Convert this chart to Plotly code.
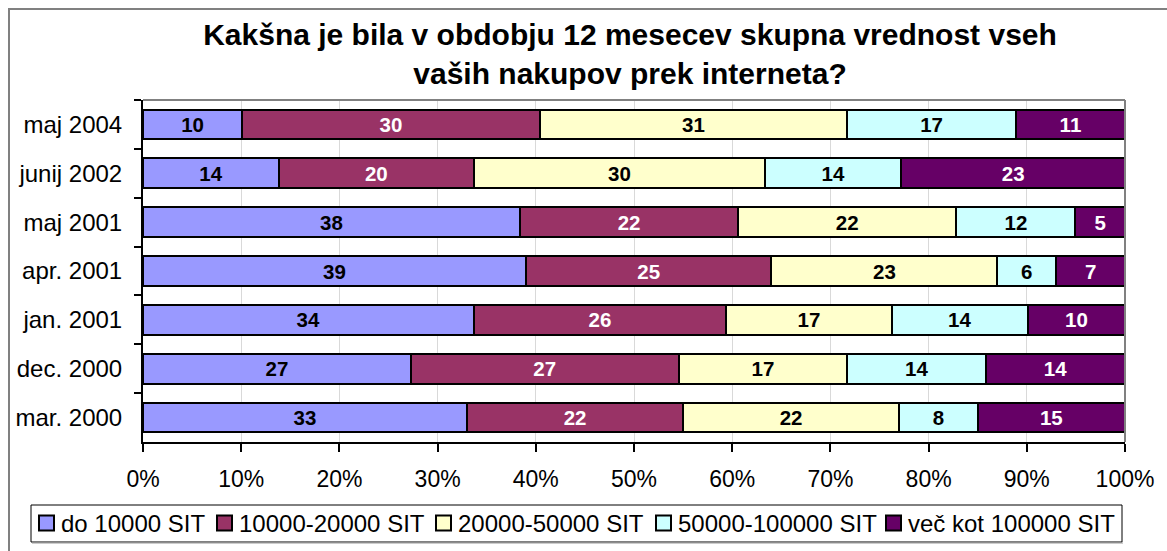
import plotly.graph_objects as go

categories = ["maj 2004", "junij 2002", "maj 2001", "apr. 2001", "jan. 2001", "dec. 2000", "mar. 2000"]
series_names = ["do 10000 SIT", "10000-20000 SIT", "20000-50000 SIT", "50000-100000 SIT", "več kot 100000 SIT"]
do_10000 = [10, 14, 38, 39, 34, 27, 33]
s_10000_20000 = [30, 20, 22, 25, 26, 27, 22]
s_20000_50000 = [31, 30, 22, 23, 17, 17, 22]
s_50000_100000 = [17, 14, 12, 6, 14, 14, 8]
vec_100000 = [11, 23, 5, 7, 10, 14, 15]
x_ticks = list(range(0, 101, 10))
x_tick_labels = [f"{v}%" for v in x_ticks]
title_text = "Kakšna je bila v obdobju 12 mesecev skupna vrednost vseh<br>vaših nakupov prek interneta?"

series_values = [do_10000, s_10000_20000, s_20000_50000, s_50000_100000, vec_100000]
colors = ["#9999FF", "#993366", "#FFFFCC", "#CCFFFF", "#660066"]
text_colors = ["black", "white", "black", "black", "white"]

FONT = "Liberation Sans, Arial, sans-serif"

fig = go.Figure()
for name, vals, col, tcol in zip(series_names, series_values, colors, text_colors):
    fig.add_trace(go.Bar(
        name=name, y=categories, x=vals, orientation="h",
        marker=dict(color=col, line=dict(color="black", width=2)),
        text=vals, texttemplate="%{text}", textposition="inside",
        insidetextanchor="middle", textangle=0, constraintext="none",
        textfont=dict(family=FONT, size=20.5, color=tcol, weight="bold"),
        hoverinfo="skip", showlegend=False,
    ))

W, H = 1167, 551
L, R, T, B = 143, 42, 100, 109
pw, ph = W - L - R, H - T - B

def px(xp):
    return (xp - L) / pw

def py(yp):
    return (H - B - yp) / ph

shapes = [
    dict(type="line", xref="paper", yref="paper", x0=0, x1=1, y0=1, y1=1,
         line=dict(color="#808080", width=2)),
    dict(type="line", xref="paper", yref="paper", x0=1, x1=1, y0=0, y1=1,
         line=dict(color="#808080", width=2)),
    dict(type="rect", xref="paper", yref="paper",
         x0=px(9), x1=px(1175), y0=py(560), y1=py(9),
         line=dict(color="#808080", width=2), fillcolor="rgba(0,0,0,0)", layer="below"),
    # legend box
    dict(type="rect", xref="paper", yref="paper",
         x0=px(31), x1=px(1122), y0=py(542), y1=py(505),
         line=dict(color="black", width=1), fillcolor="white", layer="above"),
    dict(type="line", xref="paper", yref="paper",
         x0=px(32), x1=px(1123), y0=py(543), y1=py(543),
         line=dict(color="#9A9A9A", width=1)),
]
annotations = []

# manual legend (layout positions in pixels)
legend_marker_x = [39, 217, 436, 656, 886]
legend_cy = 523
for name, col, mx in zip(series_names, colors, legend_marker_x):
    shapes.append(dict(type="rect", xref="paper", yref="paper",
                       x0=px(mx), x1=px(mx + 15), y0=py(legend_cy + 7.5), y1=py(legend_cy - 7.5),
                       line=dict(color="black", width=2), fillcolor=col, layer="above"))
    annotations.append(dict(text=name, xref="paper", yref="paper",
                            x=px(mx + 20), y=py(legend_cy), xanchor="left", yanchor="middle",
                            showarrow=False, font=dict(family=FONT, size=24, color="black")))

fig.update_layout(
    width=W, height=H,
    barmode="stack", barnorm="percent", bargap=0.39,
    margin=dict(l=L, r=R, t=T, b=B, autoexpand=False),
    paper_bgcolor="white", plot_bgcolor="white",
    font=dict(family=FONT, size=23, color="black"),
    title=dict(text=title_text, x=630 / W, xanchor="center", xref="container",
               y=1 - 45 / H, yanchor="top", yref="container",
               font=dict(family=FONT, size=30, color="black", weight="bold")),
    xaxis=dict(range=[0, 100], tickvals=x_ticks, ticktext=x_tick_labels,
               showgrid=True, gridcolor="#D9D9D9", gridwidth=1,
               showline=True, linecolor="black", linewidth=2,
               ticks="outside", ticklen=8, tickcolor="black", tickwidth=2,
               ticklabelstandoff=7,
               tickfont=dict(size=23), zeroline=False, fixedrange=True),
    yaxis=dict(autorange="reversed", showline=True, linecolor="black", linewidth=2,
               ticks="outside", tickson="boundaries", ticklen=7, tickcolor="black", tickwidth=2,
               ticklabelstandoff=14,
               tickfont=dict(size=24), showgrid=False, fixedrange=True),
    showlegend=False,
    shapes=shapes,
    annotations=annotations,
)

fig.write_html("out.html", config={"displayModeBar": False},
               post_script="document.body.style.margin='0';document.body.style.overflow='hidden';")
